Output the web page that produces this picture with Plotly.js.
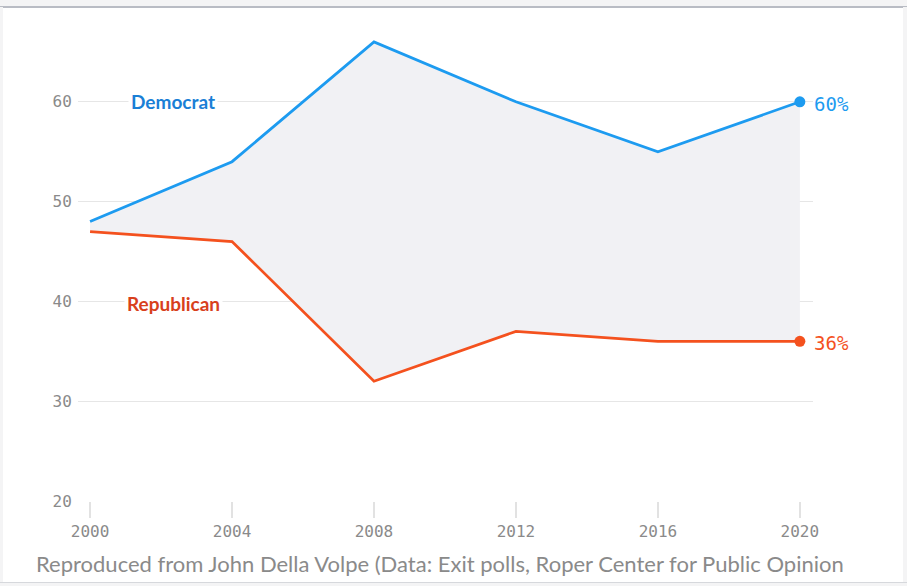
<!DOCTYPE html>
<html>
<head>
<meta charset="utf-8">
<script src="https://cdn.plot.ly/plotly-3.0.1.min.js"></script>
<style>
  html, body { margin: 0; padding: 0; width: 907px; height: 586px; overflow: hidden; background: #f4f4f5; }
  #card { position: absolute; left: 3px; top: 7px; width: 900px; height: 575px; background: #fff; border-top: 1px solid #b9bcc4; }
  #chart { position: absolute; left: 0; top: 0; width: 907px; height: 586px; }
  #topstrip { position: absolute; left: 0; top: 0; width: 907px; height: 6px; background: #f4f4f5; border-bottom: 1px solid #b9bcc4; z-index: 5; }
  #bottomstrip { position: absolute; left: 0; top: 582px; width: 907px; height: 4px; background: #f4f4f5; border-top: 1px solid #d6d8dc; z-index: 5; }
  #rightstrip { position: absolute; left: 903px; top: 7px; width: 4px; height: 576px; background: #f4f4f5; z-index: 5; }
</style>
</head>
<body>
<div id="card"></div>
<div id="chart"></div>
<div id="topstrip"></div>
<div id="rightstrip"></div>
<div id="bottomstrip"></div>
<script>
const years = [2000, 2004, 2008, 2012, 2016, 2020];
const democrat = [48, 54, 66, 60, 55, 60];
const republican = [47, 46, 32, 37, 36, 36];
const yTickVals = [20, 30, 40, 50, 60, 70];
const yTickText = ["20", "30", "40", "50", "60", "70%"];
const seriesNames = ["Democrat", "Republican"];
const caption = "Reproduced from John Della Volpe (Data: Exit polls, Roper Center for Public Opinion";

const blue = "#1d9bf0";
const red = "#f4511e";
const last = years.length - 1;
const monoFont = "DejaVu Sans Mono, Liberation Mono, monospace";

const traces = [
  {
    x: years, y: republican, type: "scatter", mode: "lines",
    line: { color: red, width: 2.8 }, hoverinfo: "skip", showlegend: false
  },
  {
    x: years, y: democrat, type: "scatter", mode: "lines",
    line: { color: blue, width: 2.8 }, fill: "tonexty", fillcolor: "#f1f1f4",
    hoverinfo: "skip", showlegend: false
  },
  {
    x: [years[last]], y: [democrat[last]], type: "scatter", mode: "markers",
    marker: { color: blue, size: 11 }, hoverinfo: "skip", showlegend: false, cliponaxis: false
  },
  {
    x: [years[last]], y: [republican[last]], type: "scatter", mode: "markers",
    marker: { color: red, size: 11 }, hoverinfo: "skip", showlegend: false, cliponaxis: false
  }
];

const layout = {
  width: 907, height: 586,
  margin: { l: 78, r: 94, t: 2, b: 85 },
  paper_bgcolor: "rgba(0,0,0,0)",
  plot_bgcolor: "rgba(0,0,0,0)",
  xaxis: {
    range: [1999.66, 2020.37],
    tickvals: years, ticktext: years.map(String),
    showgrid: false, zeroline: false, showline: false,
    ticks: "outside", ticklen: 16, tickcolor: "#e2e2e2", tickwidth: 1.5,
    tickfont: { family: monoFont, size: 16, color: "#8a8a8a" }
  },
  yaxis: {
    range: [20, 70],
    tickvals: yTickVals, ticktext: yTickText,
    showgrid: true, gridcolor: "#e6e6e6", gridwidth: 1.2,
    zeroline: false, showline: false, ticks: "outside", ticklen: 2, tickcolor: "rgba(0,0,0,0)",
    tickfont: { family: monoFont, size: 16, color: "#8a8a8a" }
  },
  annotations: [
    {
      x: 2002.34, y: 60, xref: "x", yref: "y", text: "<b>" + seriesNames[0] + "</b>",
      showarrow: false, bgcolor: "#ffffff", borderpad: 2,
      font: { family: "Lato, sans-serif", size: 19, color: "#1a7fd6" }
    },
    {
      x: 2002.34, y: 39.8, xref: "x", yref: "y", text: "<b>" + seriesNames[1] + "</b>",
      showarrow: false, bgcolor: "#ffffff", borderpad: 2,
      font: { family: "Lato, sans-serif", size: 19, color: "#d8401c" }
    },
    {
      x: years[last], y: democrat[last], xref: "x", yref: "y", text: democrat[last] + "%",
      showarrow: false, xanchor: "left", xshift: 12, yshift: -2,
      font: { family: monoFont, size: 19, color: blue }
    },
    {
      x: years[last], y: republican[last], xref: "x", yref: "y", text: republican[last] + "%",
      showarrow: false, xanchor: "left", xshift: 12, yshift: -2,
      font: { family: monoFont, size: 19, color: red }
    },
    {
      x: 0, y: 0, xref: "paper", yref: "paper", text: caption,
      showarrow: false, xanchor: "left", yanchor: "middle",
      font: { family: "Lato, sans-serif", size: 22, color: "#8a8a8a" }
    }
  ]
};
// caption placed in pixel terms via paper fraction
layout.annotations[4].x = (34 - 78) / (907 - 78 - 94);
layout.annotations[4].y = (586 - 85 - 563) / (586 - 2 - 85);

Plotly.newPlot("chart", traces, layout, { displayModeBar: false, staticPlot: true });
</script>
</body>
</html>
